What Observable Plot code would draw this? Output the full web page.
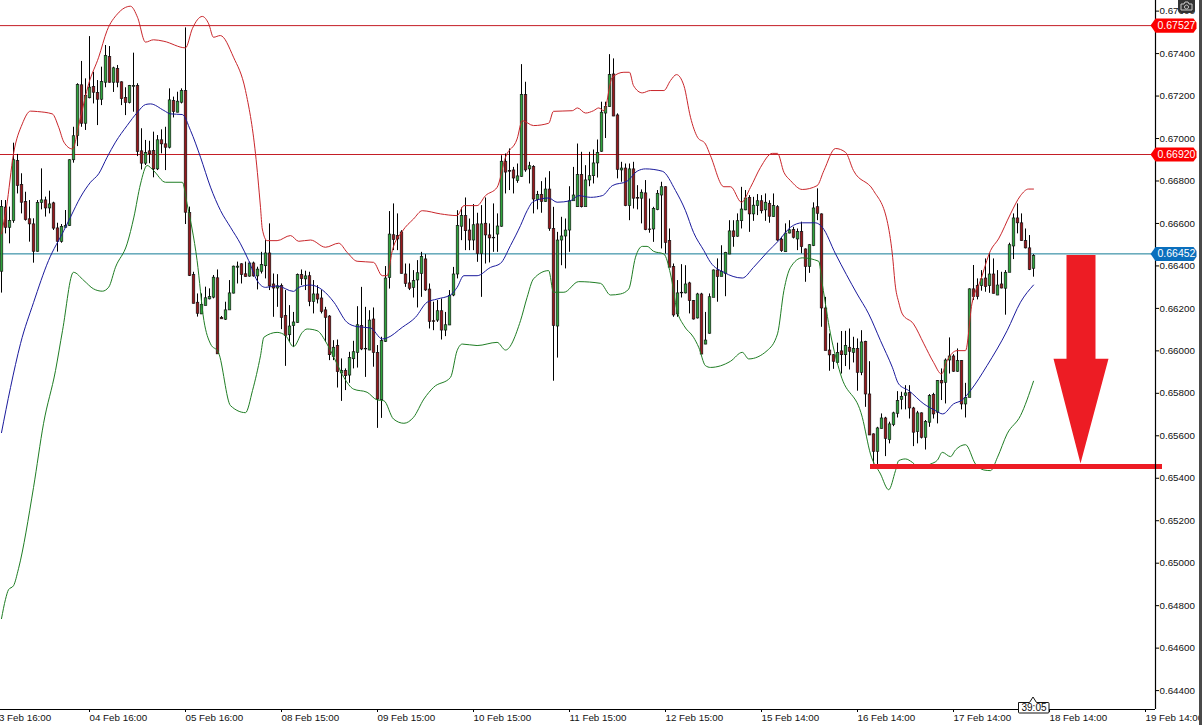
<!DOCTYPE html>
<html><head><meta charset="utf-8">
<style>html,body{margin:0;padding:0;background:#fff;overflow:hidden}#wrap{position:relative;width:1202px;height:725px;overflow:hidden}
svg{display:block}</style>
<script src="https://cdn.jsdelivr.net/npm/d3@7"></script>
<script src="https://cdn.jsdelivr.net/npm/@observablehq/plot@0.6"></script>
</head><body><div id="wrap"></div>
<script>
// Prices in 1e-5 units, one entry per hourly candle
const opens=[66375,66677,66582,66614,66896,66783,66703,66622,66598,66469,
66699,66711,66673,66697,66579,66516,66582,66590,66900,67014,
67253,67072,67192,67245,67217,67185,67265,67386,67265,67330,
67267,67193,67170,67246,67250,66942,66884,66942,66943,66857,
66994,66975,66959,67179,67124,67171,67226,66651,66359,66229,
66174,66213,66245,66253,66344,66158,66149,66193,66272,66394,
66410,66363,66352,66414,66353,66375,66401,66461,66315,66296,
66307,66166,66076,66119,66134,66359,66339,66354,66233,66268,
66249,66193,66164,65974,66025,65896,65907,65886,65963,65993,
66119,66009,66004,66150,65993,65770,66045,66346,66547,66543,
66560,66362,66320,66299,66334,66365,66433,66291,66142,66145,
66189,66098,66122,66263,66362,66587,66637,66569,66522,66598,
66459,66601,66546,66532,66550,66587,66893,66849,66852,66802,
66822,67207,66857,66868,66712,66736,66704,66762,66576,66117,
66522,66541,66569,66707,66679,66830,66679,66805,66825,66885,
66940,67120,67150,67304,67111,66852,66861,66684,66857,66722,
66719,66744,66574,66574,66665,66734,66773,66519,66397,66174,
66273,66273,66320,66237,66155,66268,66032,66083,66252,66381,
66350,66365,66456,66565,66540,66613,66664,66723,66645,66684,
66707,66664,66695,66632,66679,66526,66467,66555,66571,66527,
66562,66480,66398,66496,66679,66645,66202,66004,65982,65946,
66000,65982,66017,65993,66011,65899,66045,65797,65609,65527,
65635,65684,65582,65653,65706,65772,65791,65805,65731,65620,
65708,65593,65664,65794,65711,65860,65852,65957,65976,65904,
65954,65750,65781,66292,66307,66307,66343,66307,66362,66263,
66315,66295,66370,66494,66626,66603,66519,66485,66389];
const highs=[66708,66708,66677,66978,66925,66834,66747,66708,66622,66708,
66857,66724,66752,66700,66601,66595,66661,66900,67053,67258,
67363,67281,67480,67312,67273,67336,67438,67433,67336,67344,
67267,67239,67250,67402,67258,67046,66991,66987,67030,67014,
67041,67053,67234,67195,67218,67234,67521,66677,66370,66268,
66268,66300,66292,66355,66381,66162,66229,66331,66399,66418,
66410,66418,66418,66418,66394,66464,66519,66598,66362,66359,
66315,66284,66213,66181,66362,66381,66375,66370,66331,66307,
66284,66205,66166,66048,66051,65962,65915,65993,66045,66208,
66299,66205,66189,66202,66025,66064,66397,66656,66692,66645,
66566,66409,66409,66378,66425,66464,66453,66315,66229,66237,
66244,66181,66284,66393,66660,66673,66720,66621,66689,66648,
66684,66720,66598,66692,66645,66919,66927,66951,66864,66880,
67348,67265,66888,66872,66751,66797,66814,66844,66676,66558,
66629,66621,66773,66864,66974,66935,66872,66935,66946,66993,
67171,67171,67395,67375,67116,66888,66880,66880,66888,66778,
66758,66802,66715,66676,66755,66794,66773,66574,66409,66331,
66406,66401,66323,66237,66271,66271,66181,66268,66381,66433,
66495,66464,66613,66613,66645,66770,66755,66731,66723,66736,
66731,66739,66707,66739,66684,66535,66598,66613,66582,66574,
66606,66480,66500,66697,66763,66645,66252,66080,65982,66036,
66091,66092,66103,66064,66056,66095,66045,65949,65609,65640,
65703,65687,65664,65711,65808,65805,65836,65836,65734,65715,
65708,65672,65794,65800,65860,65915,65962,66061,65982,66009,
65954,65847,66292,66402,66339,66378,66433,66457,66433,66378,
66370,66378,66507,66645,66692,66645,66574,66543,66453];
const lows=[66272,66551,66504,66601,66739,66645,66611,66512,66413,66465,
66664,66630,66645,66567,66465,66507,66582,66586,66884,66962,
67053,67038,67187,67163,67061,67155,67239,67261,67217,67239,
67155,67108,67163,67124,66915,66852,66873,66881,66815,66849,
66928,66849,66951,67097,67121,67163,66595,66350,66221,66159,
66171,66213,66240,66245,65986,66149,66143,66193,66268,66315,
66315,66347,66347,66347,66287,66362,66339,66284,66158,66205,
66100,65927,66040,66017,66130,66307,66284,66208,66174,66221,
66174,66040,65954,65954,65825,65762,65813,65847,65915,65919,
66001,65875,66001,65923,65635,65682,66040,66291,66472,66472,
66362,66299,66284,66249,66202,66252,66280,66103,66095,66134,
66051,66067,66119,66255,66339,66519,66472,66472,66472,66417,
66252,66409,66414,66464,66464,66582,66739,66755,66739,66789,
66817,66841,66786,66645,66664,66648,66700,66563,65857,65966,
66401,66386,66464,66707,66676,66673,66679,66773,66786,66814,
66935,67000,67147,67103,66810,66794,66679,66613,66668,66664,
66598,66566,66554,66511,66660,66480,66456,66394,66158,66158,
66249,66268,66174,66145,66150,65982,66029,66079,66252,66229,
66350,66255,66453,66488,66535,66574,66660,66558,66610,66637,
66645,66610,66601,66629,66516,66464,66464,66551,66527,66472,
66457,66323,66365,66491,66613,66111,66001,65904,65913,65938,
65891,65926,65910,65943,65810,65883,65734,65601,65467,65460,
65632,65502,65562,65643,65684,65722,65722,65679,65549,65562,
65585,65533,65640,65679,65656,65766,65750,65891,65899,65899,
65722,65684,65781,66237,66240,66281,66276,66271,66268,66260,
66292,66168,66370,66430,66551,66516,66480,66378,66347];
const closes=[66680,66582,66614,66900,66779,66700,66618,66598,66469,66699,
66711,66673,66692,66578,66516,66586,66590,66900,67013,67254,
67072,67203,67242,67218,67185,67268,67391,67265,67333,67265,
67188,67170,67250,67250,66939,66884,66934,66928,66857,66994,
66975,66959,67182,67127,67176,67226,66653,66355,66224,66177,
66218,66250,66256,66347,65986,66151,66193,66273,66399,66399,
66360,66350,66414,66353,66385,66406,66461,66306,66296,66306,
66158,66072,66117,66136,66359,66340,66353,66233,66268,66244,
66186,66158,65982,66017,65902,65907,65883,65968,65996,66123,
66009,66012,66145,65993,65773,66048,66343,66550,66524,66527,
66365,66318,66295,66331,66368,66444,66287,66139,66139,66189,
66098,66123,66260,66362,66590,66637,66566,66522,66594,66459,
66598,66546,66532,66535,66588,66893,66842,66846,66814,66824,
67207,66852,66872,66715,66736,66704,66762,66577,66120,66522,
66541,66569,66707,66734,66830,66679,66805,66825,66885,66935,
67124,67150,67301,67106,66855,66861,66684,66857,66719,66719,
66747,66571,66571,66671,66742,66773,66511,66394,66169,66273,
66276,66315,66237,66150,66268,65985,66051,66255,66381,66350,
66375,66464,66565,66538,66613,66668,66720,66645,66686,66707,
66660,66700,66634,66684,66522,66472,66555,66570,66535,66562,
66491,66398,66500,66673,66648,66202,66001,65981,65951,65993,
65982,66025,65998,66012,65899,66042,65797,65604,65527,65637,
65684,65588,65656,65708,65766,65785,65802,65731,65617,65708,
65593,65668,65789,65703,65860,65849,65957,65976,65904,65954,
65750,65781,66292,66256,66256,66339,66303,66362,66271,66310,
66296,66370,66500,66626,66603,66519,66485,66383,66449];

// Bollinger bands: candle position, price
const upperAt=[0,1.25,3,5.2,7.25,9,12.7,14.3,15.6,17.7,19.75,21.8,24.3,26.4,29,32.25,34,36,38,40.6,46,47.7,50.2,51.8,53,54.7,58,61,63.5,64.75,65.2,66.4,68.9,72.25,74.3,77.25,81,84.3,86.4,88.9,93,95.2,96.4,97.7,100.2,103,105.2,109.75,113.9,115.6,118.9,121,123.9,126,128.9,130.2,133,136.8,138,142.7,144,146,148,149.3,150.6,152.7,155.6,157,158,160.2,162.2,165.6,167.25,168.75,170.6,172.25,174,176,177.25,180.6,182.25,185,187.25,189.75,192.7,194,195.6,197.25,200.2,203.9,205.6,208.5,211,213,218,221.4,222.7,223.5,224.3,225.2,228,230.6,233,235,236.4,238.9,241,242.6,244.75,247.25,249.25,252.25,254.75,256.75,258];
const upperVal=[66551,66677,66928,67069,67129,67127,67116,67053,66983,66951,67100,67258,67383,67509,67587,67623,67571,67454,67465,67458,67427,67517,67575,67540,67477,67485,67383,67226,66928,66676,66574,66519,66519,66543,66516,66522,66488,66507,66464,66422,66417,66354,66354,66472,66563,66621,66660,66645,66637,66684,66684,66731,66770,66912,66998,67084,67061,67072,67128,67131,67144,67120,67131,67144,67131,67288,67312,67312,67249,67215,67226,67226,67273,67301,67249,67100,67006,66974,66919,66773,66773,66700,66770,66864,66930,66930,66841,66802,66760,66778,66849,66953,66935,66849,66755,66613,66457,66300,66229,66174,66127,66033,65946,65891,65954,66001,66001,66221,66331,66472,66527,66645,66731,66762,66762];
const middleAt=[0,2.25,4.75,8,11.75,15.6,17.25,19.75,22.25,24.3,26.4,28.5,31.4,34,36,37.25,40.6,42.25,45.2,47.25,49.75,52.25,54.75,57.25,59.75,61.8,63.9,66,68.9,73,74.3,77.25,80.2,83.1,86.4,88.9,92.25,95.2,96.4,100.2,103.5,106.4,108.9,112.25,113.9,115.6,118.9,122.25,124.75,127.25,129.75,131.4,133,136.8,138.9,142.25,144.3,147.25,150.2,152.7,156.4,158.9,161,165.2,168.5,171,173,175.6,177.25,180.6,185.2,188,191.4,194.3,197.25,200.2,203.5,205.2,208.5,213.9,216.8,219.75,222.7,224.3,226.8,230.6,233.5,235.3,238,240.2,242.25,246.4,251.4,254.75,258];
const middleVal=[65615,65827,66034,66227,66425,66567,66630,66724,66794,66834,66912,66983,67061,67124,67160,67163,67132,67116,67113,67038,66912,66771,66661,66582,66504,66425,66331,66299,66306,66280,66299,66310,66287,66229,66134,66114,66108,66056,66061,66111,66158,66229,66244,66263,66299,66354,66354,66393,66412,66496,66590,66660,66704,66720,66700,66707,66731,66723,66731,66778,66799,66846,66857,66846,66755,66660,66558,66472,66417,66370,66343,66393,66464,66519,66582,66603,66603,66582,66457,66268,66174,66048,65923,65844,65813,65750,65719,65703,65750,65769,65813,65931,66095,66229,66310];
const lowerAt=[0,1,1.75,3,4.25,8,10.5,13.5,15.25,18,20.6,23,25.2,26.8,28.5,31.4,33.1,34.75,36.4,38,41,45.2,46.4,48.9,50.6,52.25,54.25,57.25,61,62.75,64.75,65.6,68.9,71,73,75.2,76.4,78.9,81.4,83.9,85.6,88,91.4,93.9,95.6,98,100.6,103,105.6,108,112.25,113.9,115.2,118.9,123.9,126,129.75,131.4,133,136.8,138,140.6,144.3,149.75,152.25,154.75,156.8,158.5,160.2,161.4,163,165.6,167.25,168.9,170.6,173,174.3,176,177.25,182.25,185.2,186.8,191.4,194,195.6,197.25,200.2,204.3,205.2,207.25,209.75,215.2,217.25,219.75,221.8,223.5,224.3,226,227.7,229.3,232.25,234,235.2,237.25,238.5,241,243.5,245.6,247.25,249,251.4,254.75,258];
const lowerVal=[64739,64830,64875,64894,64974,65356,65657,65907,66095,66370,66331,66292,66281,66300,66394,66504,66630,66786,66873,66849,66794,66794,66692,66425,66143,66033,65992,65742,65709,65813,65977,66064,66087,66072,66020,66087,66103,66095,66032,65938,65875,65820,65805,65769,65765,65679,65659,65687,65773,65828,65875,66001,66032,66025,66040,66004,66142,66252,66339,66378,66276,66276,66326,66318,66263,66268,66291,66441,66492,66492,66469,66456,66362,66189,66119,66064,66017,65930,65922,65951,65993,65962,66001,66080,66284,66393,66438,66422,66315,66080,65891,65687,65514,65420,65346,65436,65483,65491,65475,65452,65467,65486,65522,65502,65533,65558,65467,65439,65436,65499,65609,65695,65857];

const resistance=[67527,66920];
const lastPrice=[66452];
const targetPrice=[65455];
const targetFrom=[217.25], targetTo=[290.25];
const arrowAt=[266.25,273.5,273.5,276.75,269.75,263,266.25];
const arrowVal=[66452,66452,65963,65963,65470,65963,65963];

const dateTicks=[-2,22,46,70,94,118,142,166,190,214,238,262,286];
const dateLabels=["03 Feb 16:00","04 Feb 16:00","05 Feb 16:00","08 Feb 15:00","09 Feb 15:00","10 Feb 15:00","11 Feb 15:00","12 Feb 15:00","15 Feb 14:00","16 Feb 14:00","17 Feb 14:00","18 Feb 14:00","19 Feb 14:00"];
const priceTicks=[.644,.646,.648,.65,.652,.654,.656,.658,.66,.662,.664,.666,.668,.67,.672,.674,.676];
const countdown="39:05";

const p=v=>v/1e5;
const idx=d3.range(opens.length);
const series=(at,val)=>at.map((a,k)=>({a,v:p(val[k])}));
const up=i=>closes[i]>=opens[i];
const xMax=288.5,yTop=.6765,yBot=.64311;

function tag(price){ // arrow-shaped price flag on the axis
  const v=p(price),h=.00033,c=.00014;
  return [[287.25,v],[288.5,v+h],[298,v+h],[298.75,v+c],[298.75,v-c],[298,v-h],[288.5,v-h]].map(([a,b])=>({a,v:b}));
}
const tagColor=price=>price===lastPrice[0]?"#0a6fbd":"#fb0000";
const lineColor=price=>price===lastPrice[0]?"#127b96":"#c41e26";
const levels=[...resistance,...lastPrice];
const curve="monotone-x";

const chart=Plot.plot({
  width:1202,height:725,marginLeft:0,marginRight:47,marginTop:0,marginBottom:16,
  style:{fontFamily:"'Liberation Sans',Arial,sans-serif",fontSize:"9.8px",background:"#fff",color:"#000",overflow:"visible"},
  x:{domain:[-.25,xMax],range:[0,1155],axis:null},
  y:{domain:[yBot,yTop],range:[709,0],axis:null},
  marks:[
    Plot.ruleY(levels,{y:d=>p(d),x1:-.25,x2:xMax,stroke:lineColor,strokeWidth:1,dy:-1}),
    Plot.ruleX(idx,{x:i=>i,y1:i=>p(lows[i]),y2:i=>p(highs[i]),stroke:"#000",strokeWidth:1}),
    Plot.rect(idx,{x1:i=>i-.32,x2:i=>i+.32,y1:i=>p(opens[i]),y2:i=>p(closes[i]),fill:i=>up(i)?"#2fa33c":"#96181c",stroke:"#111",strokeWidth:.65,dx:.5,dy:.5}),
    Plot.line(series(upperAt,upperVal),{x:"a",y:"v",stroke:"#c9262b",strokeWidth:1,curve}),
    Plot.line(series(middleAt,middleVal),{x:"a",y:"v",stroke:"#1a1a9c",strokeWidth:1,curve}),
    Plot.line(series(lowerAt,lowerVal),{x:"a",y:"v",stroke:"#1f7d24",strokeWidth:1,curve}),
    Plot.line(series(arrowAt,arrowVal),{x:"a",y:"v",fill:"#ed1c24",stroke:"none"}),
    Plot.ruleY(targetPrice,{y:d=>p(d),x1:targetFrom[0],x2:targetTo[0],stroke:"#ed1c24",strokeWidth:5}),
    Plot.ruleX([xMax],{stroke:"#000",strokeWidth:1.2}),
    Plot.ruleY([yBot],{x1:-.25,x2:xMax,stroke:"#000",strokeWidth:1.2}),
    Plot.axisY({anchor:"right",ticks:priceTicks,tickFormat:d=>d.toFixed(5),tickSize:3,tickPadding:1,label:null,stroke:"#000",fill:"#111"}),
    Plot.axisX({ticks:dateTicks,tickFormat:d=>dateLabels[dateTicks.indexOf(d)],textAnchor:"start",lineAnchor:"top",tickSize:3,tickPadding:2,label:null,fill:"#111"}),
    ...levels.map(l=>Plot.line(tag(l),{x:"a",y:"v",fill:tagColor(l),stroke:"none",dy:-1})),
    Plot.text(levels,{x:xMax,y:d=>p(d),text:d=>(d/1e5).toFixed(5),fill:"#fff",textAnchor:"start",dx:2,dy:-1,fontSize:10.5})
  ]
});
const wrap=document.getElementById("wrap");
wrap.appendChild(chart);
wrap.insertAdjacentHTML("beforeend",`
<div style="position:absolute;left:1178px;top:0;width:17px;height:13px;background:#333;border-radius:0 0 3px 3px"></div>
<svg style="position:absolute;left:1180px;top:1px" width="13" height="10" viewBox="0 0 13 10"><path d="M1 9V3h3l1-2h3l1 2h3v6z M6.5 4a2 2 0 1 0 .01 0" fill="none" stroke="#ccc" stroke-width="1"/></svg>
<div style="position:absolute;left:1199px;top:0;width:3px;height:725px;background:#4a4a4a"></div>
<svg style="position:absolute;left:1017px;top:695px" width="33" height="20"><path d="M1.5 7.5H12.5L16 2 19.5 7.5H31a1 1 0 0 1 1 1V17a1 1 0 0 1-1 1H2.5a1 1 0 0 1-1-1z" fill="#fff" stroke="#111"/><text x="17" y="16" text-anchor="middle" font-family="Liberation Sans" font-size="10" fill="#111">${countdown}</text></svg>`);
</script></body></html>
